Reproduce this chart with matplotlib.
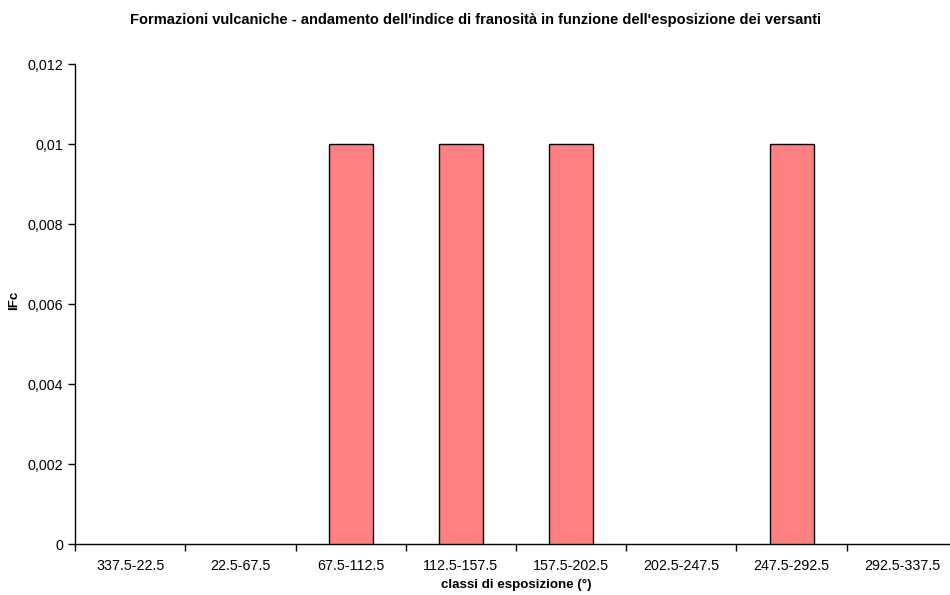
import matplotlib
matplotlib.use("Agg")
import matplotlib.pyplot as plt
import numpy as np

# exposure classes (degrees) and landslide index per class
classes = ["337.5-22.5", "22.5-67.5", "67.5-112.5", "112.5-157.5",
           "157.5-202.5", "202.5-247.5", "247.5-292.5", "292.5-337.5"]
ifc = [0, 0, 0.01, 0.01, 0.01, 0, 0.01, 0]
yticks = [0, 0.002, 0.004, 0.006, 0.008, 0.01, 0.012]
ytick_labels = ["0", "0,002", "0,004", "0,006", "0,008", "0,01", "0,012"]

plt.rcParams["font.family"] = ["Liberation Sans", "DejaVu Sans"]

W, H = 950, 595
fig = plt.figure(figsize=(W / 100, H / 100), dpi=100)
ax = fig.add_axes([75 / W, 51 / H, 882 / W, 480 / H])

x = np.arange(len(classes))
# empty classes get no outline so nothing sits on the baseline
edges = ["black" if v > 0 else "none" for v in ifc]
ax.bar(x, ifc, width=0.4, color="#FF8080", edgecolor=edges, linewidth=1.0, zorder=3)

ax.set_xlim(-0.5, len(classes) - 0.5)
ax.set_ylim(0, 0.012)
ax.set_yticks(yticks)
ax.set_yticklabels(ytick_labels, fontsize=10.3)
ax.set_xticks(np.arange(len(classes) + 1) - 0.5)
ax.set_xticklabels([])
ax.set_xticks(x, minor=True)
ax.set_xticklabels(classes, minor=True, fontsize=10.3)
ax.tick_params(axis="x", which="minor", length=0, pad=11)
ax.tick_params(axis="both", which="major", length=5, width=1, color="black", direction="out")

for side in ("top", "right"):
    ax.spines[side].set_visible(False)
for side in ("left", "bottom"):
    ax.spines[side].set_linewidth(1)
    ax.spines[side].set_color("black")

fig.text(516 / W, 1 - 585 / H, "classi di esposizione (°)", ha="center", va="center",
         fontsize=9.6, fontweight="bold")
fig.text(14 / W, 1 - 300 / H, "IFc", ha="center", va="center", rotation=90,
         fontsize=9.6, fontweight="bold")
fig.text(0.5, 1 - 20 / H, "Formazioni vulcaniche - andamento dell'indice di franosità in funzione dell'esposizione dei versanti",
         ha="center", va="center", fontsize=10.5, fontweight="bold")

fig.savefig("out.png", dpi=100)
